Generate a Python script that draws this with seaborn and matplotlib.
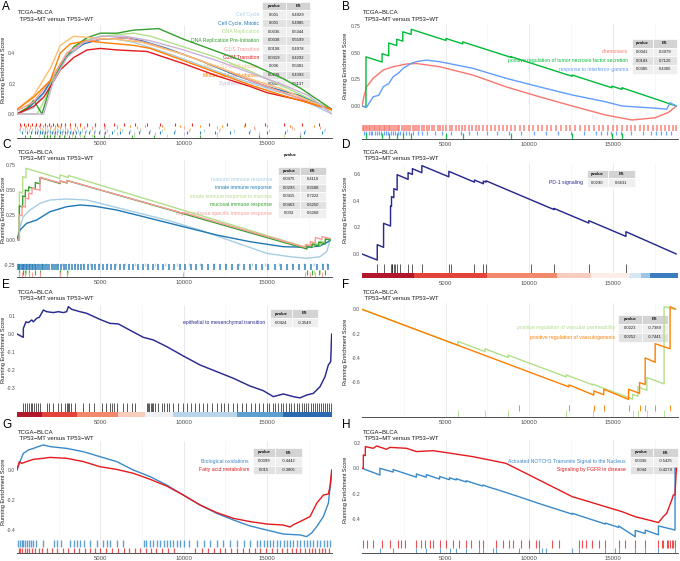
import matplotlib
matplotlib.use("Agg")
import matplotlib.pyplot as plt
from matplotlib.patches import Rectangle
import seaborn as sns

sns.set_theme(style="white")
plt.rcParams["font.family"] = ["Liberation Sans", "DejaVu Sans"]
plt.rcParams["axes.unicode_minus"] = False

W, H = 680, 561
N_GENES = 18900
X_TICKS = [5000, 10000, 15000]
X_TICK_LABELS = ["5000", "10000", "15000"]
TITLE1 = "TCGA\u2212BLCA"
TITLE2 = " TP53\u2212MT versus TP53\u2212WT"

# ---------------- Panel A data ----------------
A_LABELS = ["Cell Cycle", "Cell Cycle, Mitotic", "DNA Replication", "DNA Replication Pre-Initiation",
            "G1/S Transition", "G2/M Transition", "Mitotic G1-G1/S phases", "Mitotic G2-G2/M phases",
            "Synthesis of DNA"]
A_COLORS = ["#A6CEE3", "#1F78B4", "#B2DF8A", "#33A02C", "#FB9A99", "#E31A1C", "#FDBF6F", "#FF7F00", "#CAB2D6"]
A_PVAL = ["0.001", "0.001", "0.0036", "0.0038", "0.0108", "0.0319", "0.006", "0.0238", "0.0084"]
A_ES = ["0.4929", "0.4985", "0.5344", "0.5599", "0.4978", "0.4292", "0.5081", "0.4393", "0.5137"]
A_CC_X = [0, 1000, 2000, 2600, 3400, 4200, 5000, 6000, 7000, 9000, 11000, 13000, 15000, 17000, 18900]
A_CC_Y = [0, 0.04, 0.20, 0.33, 0.43, 0.47, 0.49, 0.49, 0.47, 0.40, 0.32, 0.24, 0.17, 0.10, 0.0]
A_CCM_X = [0, 800, 1600, 2200, 3000, 4000, 5000, 6500, 7500, 9000, 11000, 13000, 15000, 17000, 18900]
A_CCM_Y = [0, 0.05, 0.14, 0.25, 0.38, 0.46, 0.49, 0.50, 0.48, 0.43, 0.35, 0.26, 0.18, 0.12, 0.03]
A_DR_X = [0, 1200, 1700, 2200, 3000, 4000, 5000, 7000, 8000, 10000, 12000, 14000, 16000, 18900]
A_DR_Y = [0, 0.0, 0.10, 0.25, 0.40, 0.48, 0.51, 0.53, 0.51, 0.44, 0.37, 0.28, 0.18, 0.03]
A_DRP_X = [0, 600, 1000, 1500, 2000, 2600, 3400, 4200, 5000, 6000, 7000, 8500, 10000, 12000, 14000, 16000, 17000, 18900]
A_DRP_Y = [0, 0.04, 0.09, 0.0, 0.18, 0.31, 0.44, 0.50, 0.53, 0.53, 0.55, 0.56, 0.49, 0.41, 0.33, 0.23, 0.17, 0.03]
A_G1S_X = [0, 1000, 2000, 3000, 4000, 5000, 6500, 8000, 10000, 12000, 14000, 16000, 18900]
A_G1S_Y = [0.02, 0.08, 0.22, 0.40, 0.47, 0.49, 0.50, 0.46, 0.39, 0.31, 0.22, 0.14, 0.03]
A_G2M_X = [0, 1000, 1600, 2000, 2600, 3400, 4200, 5000, 6000, 7800, 10000, 12000, 14000, 15000, 17000, 18200, 18900]
A_G2M_Y = [0, 0.05, 0.11, 0.18, 0.29, 0.37, 0.42, 0.43, 0.42, 0.41, 0.33, 0.25, 0.18, 0.14, 0.09, 0.05, 0.03]
A_MG1_X = [0, 1000, 2000, 2600, 3400, 4500, 6000, 7500, 10000, 12000, 14000, 16000, 18900]
A_MG1_Y = [0.03, 0.12, 0.30, 0.45, 0.51, 0.50, 0.49, 0.47, 0.39, 0.31, 0.23, 0.16, 0.02]
A_MG2_X = [0, 1000, 2000, 2600, 3200, 4200, 5000, 7000, 8000, 10000, 12000, 14000, 16000, 18200, 18900]
A_MG2_Y = [0.03, 0.11, 0.22, 0.40, 0.46, 0.48, 0.47, 0.45, 0.43, 0.35, 0.27, 0.19, 0.12, 0.05, 0.03]
A_SP_X = [0, 1000, 1600, 2200, 3000, 4000, 5000, 6500, 8000, 10000, 12000, 14000, 16000, 17500, 18900]
A_SP_Y = [0, 0.0, 0.0, 0.22, 0.37, 0.47, 0.51, 0.51, 0.48, 0.42, 0.35, 0.27, 0.19, 0.12, 0.0]
A_HITS_CC = [200, 450, 700, 900, 1100, 1250, 1400, 1550, 1700, 1850, 2000, 2150, 2300, 2450, 2600, 2750, 2900, 3050,
             3250, 3450, 3650, 3900, 4150, 4400, 4700, 5000, 5400, 5800, 6300, 6800, 7400, 8000, 8700, 9500, 10300,
             11200, 12100, 13000, 14000, 15100, 16200, 17300, 18400]
A_HITS_CCM = [300, 600, 850, 1050, 1200, 1350, 1500, 1650, 1800, 1950, 2100, 2250, 2400, 2550, 2700, 2850, 3000,
              3150, 3350, 3550, 3800, 4050, 4300, 4600, 4900, 5300, 5700, 6200, 6700, 7300, 7900, 8600, 9400, 10200,
              11000, 11900, 12800, 13900, 15000, 16100, 17200, 18300]
A_HITS_DR = [1300, 1600, 1800, 2000, 2300, 2600, 2900, 3300, 3800, 4500, 5500, 7000, 9000, 12000, 16000]
A_HITS_DRP = [500, 800, 1600, 1800, 2000, 2200, 2500, 2800, 3100, 3500, 4000, 4600, 5200, 6900, 8200, 11000, 14500, 17000]
A_HITS_G1S = [200, 500, 800, 1100, 1400, 1700, 2000, 2300, 2600, 2900, 3200, 3600, 4000, 4500, 5200, 6000, 7200,
              8500, 10000, 12000, 14200, 16500, 18200]
A_HITS_G2M = [150, 400, 650, 900, 1150, 1400, 1650, 1900, 2150, 2400, 2650, 2900, 3200, 3500, 3800, 4200, 4700,
              5200, 5800, 6400, 7100, 7800, 8600, 9500, 10500, 11500, 12600, 13700, 14900, 16000, 17100, 18100]
A_HITS_MG1 = [100, 350, 600, 900, 1200, 1500, 1800, 2000, 2200, 2400, 2600, 3000, 3400, 3900, 4500, 5300, 6200,
              7400, 8800, 10400, 12200, 14300, 16600, 18500]
A_HITS_MG2 = [250, 550, 800, 1050, 1300, 1550, 1800, 2050, 2250, 2450, 2650, 2900, 3150, 3450, 3800, 4200, 4700,
              5300, 6000, 6800, 7700, 8700, 9800, 11000, 12300, 13600, 15000, 16400, 17800]
A_HITS_SP = [1600, 1800, 2000, 2200, 2400, 2700, 3000, 3300, 3700, 4100, 4600, 5200, 6000, 7000, 8300, 10000,
             12000, 14500, 17000]

# ---------------- Panel B data ----------------
B_LABELS = ["chemotaxis", "positive regulation of tumor necrosis factor secretion", "response to interferon-gamma"]
B_COLORS = ["#F8766D", "#00BA38", "#619CFF"]
B_PVAL = ["0.0041", "0.0183", "0.0385"]
B_ES = ["0.3979", "0.7120", "0.4306"]
B_RED_X = [0, 100, 278, 674, 1269, 1864, 2657, 3252, 4641, 6624, 8607, 10591, 12575, 14558, 16145, 17532, 18326, 18800]
B_RED_Y = [0, 0.08, 0.18, 0.26, 0.337, 0.368, 0.393, 0.398, 0.368, 0.29, 0.18, 0.087, 0.0, -0.084, -0.131, -0.11, -0.06, 0.0]
B_GRN_X = [0, 238, 238, 1200, 1200, 1600, 1600, 2080, 2080, 2440, 2440, 2940, 2940, 5020, 5020, 6020, 6020, 8900,
           8900, 12570, 12570, 14945, 14945, 15545, 15545, 18800]
B_GRN_Y = [0, -0.012, 0.46, 0.412, 0.49, 0.47, 0.59, 0.566, 0.625, 0.607, 0.695, 0.67, 0.718, 0.614, 0.632, 0.582,
           0.60, 0.456, 0.462, 0.278, 0.29, 0.171, 0.186, 0.156, 0.171, 0.0]
B_BLU_X = [0, 278, 674, 1000, 1269, 1600, 1864, 2200, 2459, 2955, 3252, 3847, 4641, 6624, 8607, 10591, 12575, 14558,
           15550, 16500, 17532, 18227, 18425, 18800]
B_BLU_Y = [0, -0.01, 0.087, 0.10, 0.18, 0.21, 0.274, 0.31, 0.353, 0.40, 0.415, 0.43, 0.415, 0.353, 0.26, 0.18,
           0.103, 0.04, 0.0, -0.01, -0.02, -0.03, 0.03, 0.0]
B_HITS_RED = [40, 120, 230, 310, 420, 480, 590, 700, 760, 880, 990, 1060, 1180, 1290, 1350, 1470, 1600, 1690, 1810,
              1930, 2040, 2160, 2230, 2370, 2520, 2610, 2780, 2900, 3030, 3170, 3260, 3420, 3590, 3700, 3880, 4010,
              4190, 4330, 4520, 4680, 4850, 5030, 5240, 5390, 5600, 5780, 5990, 6170, 6400, 6580, 6820, 7010, 7260,
              7480, 7690, 7950, 8170, 8420, 8690, 8930, 9180, 9460, 9700, 9980, 10250, 10540, 10790, 11080, 11330,
              11620, 11900, 12180, 12470, 12760, 13020, 13310, 13600, 13880, 14150, 14430, 14720, 15000, 15260,
              15550, 15820, 16080, 16350, 16620, 16870, 17130, 17390, 17640, 17880, 18120, 18350, 18580, 18760]
B_HITS_GRN = [238, 1200, 1600, 2080, 2440, 2940, 5020, 6020, 8900, 12570, 14945, 15545]
B_HITS_BLU = [100, 260, 390, 520, 610, 780, 900, 1040, 1150, 1310, 1420, 1580, 1720, 1860, 1990, 2150, 2300, 2480,
              2650, 2830, 3050, 3350, 3600, 3900, 4350, 4800, 5300, 5900, 6400, 6900, 7500, 8100, 8800, 9500, 10300,
              11000, 11700, 12500, 13300, 14000, 14300, 14650, 14900, 15200, 15500, 16100, 16800, 17300, 17600,
              17900, 18200, 18500]

# ---------------- Panel C data ----------------
C_LABELS = ["humoral immune response", "innate immune response", "innate immune response in mucosa",
            "mucosal immune response", "organ or tissue specific immune response"]
C_COLORS = ["#A6CEE3", "#1F78B4", "#B2DF8A", "#33A02C", "#FB9A99"]
C_PVAL = ["0.0475", "0.0293", "0.0415", "0.0463", "0.033"]
C_ES = ["0.4110", "0.3588", "0.7222", "0.6250", "0.6268"]
C_HUM_X = [0, 180, 380, 780, 1380, 1980, 2980, 4180, 4980, 6980, 8980, 10980, 12980, 14980, 16380, 17380, 18180, 18580, 18800]
C_HUM_Y = [0, 0.133, 0.233, 0.30, 0.367, 0.40, 0.41, 0.40, 0.367, 0.283, 0.20, 0.10, -0.017, -0.133, -0.167, -0.183, -0.167, -0.117, 0.0]
C_INN_X = [0, 180, 580, 1180, 1980, 2980, 3780, 4580, 5980, 7980, 9980, 11980, 13980, 15980, 17380, 18180, 18680, 18800]
C_INN_Y = [0, 0.10, 0.167, 0.20, 0.283, 0.333, 0.35, 0.34, 0.30, 0.217, 0.133, 0.05, -0.017, -0.067, -0.073, -0.06, -0.017, 0.0]
C_MUC_X = [0, 140, 140, 340, 340, 540, 540, 2580, 2580, 3080, 3080, 17380, 17380, 17800, 17800, 18200, 18200, 18500, 18500, 18800]
C_MUC_Y = [0, 0, 0.48, 0.47, 0.633, 0.623, 0.717, 0.615, 0.65, 0.625, 0.645, -0.075, -0.045, -0.066, -0.03, -0.05,
           -0.01, -0.025, 0.015, 0.0]
C_MCL_X = [0, 140, 140, 340, 340, 500, 500, 700, 700, 1100, 1100, 1380, 1380, 2600, 2600, 3000, 3000, 17400, 17400,
           17700, 17700, 18100, 18100, 18500, 18500, 18800]
C_MCL_Y = [0, 0, 0.34, 0.33, 0.44, 0.432, 0.50, 0.49, 0.53, 0.51, 0.575, 0.561, 0.625, 0.564, 0.59, 0.57, 0.595,
           -0.09, -0.06, -0.074, -0.04, -0.059, -0.02, -0.039, 0.01, 0.0]
C_ORG_X = [0, 140, 140, 300, 300, 500, 500, 700, 700, 900, 900, 1380, 1380, 2600, 2600, 3000, 3000, 9980, 9980, 17300,
           17300, 17600, 17600, 17900, 17900, 18300, 18300, 18800]
C_ORG_Y = [0, 0, 0.25, 0.242, 0.34, 0.33, 0.42, 0.41, 0.47, 0.46, 0.52, 0.497, 0.627, 0.57, 0.59, 0.571, 0.595,
           0.267, 0.274, -0.074, -0.045, -0.059, -0.015, -0.03, 0.025, 0.006, 0.035, 0.015]
C_HITS_HUM = [80, 250, 430, 600, 790, 1000, 1230, 1480, 1750, 2050, 2380, 2700, 3100, 3500, 3950, 4400, 4900, 5400,
              5950, 6500, 7100, 7700, 8300, 8900, 9600, 10300, 11000, 11800, 12500, 13300, 14100, 14900, 15700,
              16500, 17200, 17800, 18300, 18600]
C_HITS_INN = [30, 110, 190, 280, 350, 440, 520, 610, 700, 790, 870, 960, 1060, 1150, 1260, 1350, 1470, 1580, 1690,
              1820, 1940, 2070, 2200, 2340, 2480, 2630, 2790, 2940, 3110, 3290, 3460, 3650, 3840, 4040, 4250, 4470,
              4690, 4920, 5150, 5400, 5640, 5900, 6160, 6430, 6700, 6980, 7260, 7560, 7850, 8160, 8460, 8780, 9100,
              9420, 9750, 10080, 10420, 10760, 11100, 11450, 11800, 12160, 12520, 12880, 13240, 13600, 13970,
              14340, 14710, 15080, 15450, 15820, 16190, 16560, 16930, 17300, 17660, 18010, 18340, 18650]
C_HITS_MUC = [140, 340, 540, 2580, 3080, 17380, 17800, 18200, 18500]
C_HITS_MCL = [140, 340, 500, 700, 1100, 1380, 2600, 3000, 17400, 17700, 18100, 18500]
C_HITS_ORG = [140, 300, 500, 700, 900, 1380, 2600, 3000, 9980, 17300, 17600, 17900, 18300]

# ---------------- Panel D data ----------------
D_LABEL = ["PD-1 signaling"]
D_PVAL = ["0.0290"]
D_ES = ["0.6631"]
D_X = [0, 912, 912, 1290, 1290, 1706, 1706, 1765, 1765, 1904, 1904, 2102, 2102, 2757, 2757, 3014, 3014, 3580, 3580,
       5195, 5195, 6723, 6723, 7259, 7259, 7417, 7417, 11485, 11485, 13566, 13566, 15787, 15787, 18800]
D_Y = [0, -0.045, 0.07, 0.05, 0.23, 0.21, 0.36, 0.357, 0.43, 0.423, 0.49, 0.48, 0.595, 0.56, 0.61, 0.597, 0.64,
       0.61, 0.663, 0.579, 0.62, 0.539, 0.555, 0.527, 0.547, 0.539, 0.549, 0.333, 0.342, 0.232, 0.25, 0.132, 0.167, 0.0]
D_HITS = [912, 1290, 1706, 1765, 1805, 1904, 1964, 2102, 2300, 2757, 3014, 3580, 5195, 5300, 6723, 7259, 7417,
          10095, 11485, 13566, 15787]
D_BAR_EDGES = [0, 3110, 7480, 11640, 13720, 16000, 16700, 17200, 18900]
D_BAR_COLORS = ["#B2182B", "#E4433A", "#F2896D", "#F8CDBD", "#FBEDE8", "#D6E6F2", "#9CC5E3", "#3B7DBE"]

# ---------------- Panel E data ----------------
E_LABEL = ["epithelial to mesenchymal transition"]
E_PVAL = ["0.0424"]
E_ES = ["-0.3549"]
E_X = [0, 380, 380, 540, 680, 880, 980, 1180, 1340, 1580, 1780, 2180, 2480, 2780, 2980, 3080, 3280, 3780, 4180,
       4980, 5580, 6080, 6580, 7580, 8180, 8980, 9980, 10980, 11980, 12980, 13980, 14780, 15380, 15980, 16580,
       16980, 17380, 17780, 18180, 18480, 18680, 18820, 18880]
E_Y = [0, -0.0185, 0.031, 0.068, 0.063, 0.078, 0.068, 0.087, 0.093, 0.133, 0.124, 0.119, 0.124, 0.119, 0.124, 0.152,
       0.137, 0.124, 0.115, 0.081, 0.059, 0.056, 0.031, -0.0185, -0.033, -0.070, -0.122, -0.172, -0.209, -0.246,
       -0.289, -0.315, -0.348, -0.333, -0.348, -0.355, -0.339, -0.330, -0.293, -0.237, -0.172, -0.154, 0.0]
E_HITS = [380, 480, 620, 740, 820, 920, 1040, 1140, 1280, 1380, 1780, 1940, 2140, 2480, 2620, 2900, 2980, 3040, 3120,
          3220, 3480, 3980, 4340, 4620, 5080, 5340, 5580, 5680, 5820, 5980, 6380, 6580, 6880, 7080, 7780, 7840,
          7920, 8020, 8100, 8180, 8300, 8480, 8680, 8820, 8980, 9140, 9380, 9680, 9940, 10180, 10420, 10680,
          10940, 11180, 11420, 11720, 11980, 12220, 12420, 12680, 12980, 13220, 13480, 13740, 14020, 14280,
          14540, 14780, 14980, 15140, 15340, 15500, 15660, 15820, 15980, 16140, 16300, 16460, 16620, 16780,
          16940, 17080, 17220, 17340, 17480, 17620, 17740, 17880, 18020, 18140, 18260, 18380, 18500, 18620,
          18740, 18860]
E_BAR_EDGES = [0, 1480, 3580, 6080, 7680, 9380, 13180, 15980, 18900]
E_BAR_COLORS = ["#B2182B", "#E4433A", "#F2896D", "#F8CDBD", "#EEF0F4", "#B9D5EA", "#5E9FD0", "#2A6AAE"]

# ---------------- Panel F data ----------------
F_LABELS = ["positive regulation of vascular permeability", "positive regulation of vasculogenesis"]
F_COLORS = ["#B2DF8A", "#FF7F00"]
F_PVAL = ["0.0223", "0.0252"]
F_ES = ["-0.7389", "-0.7441"]
F_GRN_X = [0, 5732, 5732, 7358, 7358, 8747, 8747, 12217, 12217, 13804, 13804, 16184, 16184, 16502, 16502, 17037,
           17037, 18068, 18068, 18763]
F_GRN_Y = [0, -0.296, -0.264, -0.348, -0.325, -0.397, -0.378, -0.557, -0.54, -0.622, -0.616, -0.739, -0.70, -0.716,
           -0.639, -0.667, -0.561, -0.614, 0.022, 0.0]
F_ORG_X = [0, 12376, 12376, 13864, 13864, 14459, 14459, 15946, 15946, 16600, 16600, 16938, 16938, 17533, 17533,
           18425, 18425, 18763]
F_ORG_Y = [0, -0.639, -0.622, -0.706, -0.672, -0.703, -0.658, -0.742, -0.658, -0.692, -0.603, -0.619, -0.40,
           -0.436, -0.283, -0.325, 0.022, 0.0]
F_HITS_GRN = [5732, 7358, 8747, 12217, 13804, 16184, 16502, 17037, 18068]
F_HITS_ORG = [9401, 12376, 13864, 14459, 15946, 16600, 16938, 17533, 18425]

# ---------------- Panel G data ----------------
G_LABELS = ["Biological oxidations", "Fatty acid metabolism"]
G_COLORS = ["#3A89C9", "#E41A1C"]
G_PVAL = ["0.0099", "0.015"]
G_ES = ["-0.4442", "-0.3805"]
G_BLU_X = [0, 180, 380, 680, 980, 1380, 1580, 1980, 2980, 3980, 4980, 5980, 6980, 7980, 8980, 9980, 10980, 11980,
           12980, 13980, 14980, 15980, 16980, 17380, 17680, 17980, 18380, 18680, 18840, 18900]
G_BLU_Y = [0, 0.056, 0.111, 0.133, 0.144, 0.16, 0.167, 0.156, 0.144, 0.122, 0.089, 0.056, 0.0, -0.044, -0.1,
           -0.167, -0.233, -0.289, -0.333, -0.373, -0.4, -0.427, -0.433, -0.444, -0.42, -0.378, -0.311, -0.222,
           -0.067, 0.0]
G_RED_X = [0, 140, 280, 580, 980, 1580, 1980, 2980, 3980, 4980, 5980, 6980, 7980, 8980, 9980, 10980, 11980, 12980,
           13980, 14980, 15980, 16380, 16580, 16980, 17580, 17980, 18380, 18680, 18780, 18880]
G_RED_Y = [0, 0.056, 0.044, 0.056, 0.071, 0.078, 0.084, 0.078, 0.056, 0.022, 0.004, -0.022, -0.062, -0.107,
           -0.167, -0.233, -0.284, -0.322, -0.344, -0.36, -0.367, -0.38, -0.365, -0.344, -0.311, -0.222, -0.167,
           -0.16, -0.111, 0.0]
G_HITS_BLU = [80, 170, 290, 370, 490, 610, 690, 830, 940, 1160, 1570, 2190, 2370, 2620, 3170, 3390, 3610, 3770,
              3990, 4360, 4790, 5170, 5390, 5570, 5990, 6370, 7590, 7760, 7990, 8170, 8390, 8560, 8790, 8970, 9190,
              9370, 9590, 9760, 9990, 10290, 10770, 11190, 11570, 11990, 12370, 12790, 13170, 13590, 13970, 14390,
              14570, 14790, 14970, 15190, 15370, 15590, 15770, 15990, 16170, 16390, 16570, 16790, 16970, 17190,
              17370, 17590, 17770, 17990, 18170, 18390, 18570, 18770]
G_HITS_RED = [90, 200, 320, 450, 580, 700, 880, 1050, 1300, 1500, 1800, 2100, 2400, 2750, 3050, 3400, 3700, 4050,
              4400, 4700, 5000, 5350, 5700, 6050, 6400, 6700, 7050, 7400, 7750, 8050, 8350, 8700, 9050, 9400,
              10700, 11100, 11450, 11800, 12150, 12500, 12850, 13200, 13550, 13900, 14250, 14600, 14950, 15300,
              15600, 15900, 16200, 16500, 16750, 17000, 17250, 17500, 17700, 17900, 18100, 18300, 18500, 18700]

# ---------------- Panel H data ----------------
H_LABELS = ["Activated NOTCH1 Transmits Signal to the Nucleus", "Signaling by FGFR in disease"]
H_COLORS = ["#3A89C9", "#E41A1C"]
H_PVAL = ["0.0336", "0.044"]
H_ES = ["-0.5425", "-0.4279"]
H_BLU_X = [0, 1071, 1071, 1864, 1864, 3252, 3252, 3847, 3847, 4641, 4641, 5236, 5236, 5633, 5633, 6228, 6228, 7021,
           7219, 7219, 7814, 8012, 9400, 10591, 10987, 12575, 12575, 12971, 14558, 14558, 15153, 15351, 15351,
           16343, 16343, 16938, 16938, 17731, 17731, 18723, 18723, 18800]
H_BLU_Y = [0, -0.053, 0.0, -0.03, -0.01, -0.07, -0.045, -0.07, -0.05, -0.085, -0.065, -0.09, -0.075, -0.092, -0.082,
           -0.108, -0.098, -0.132, -0.14, -0.132, -0.158, -0.165, -0.225, -0.278, -0.295, -0.362, -0.355, -0.372,
           -0.44, -0.432, -0.458, -0.466, -0.455, -0.54, -0.49, -0.515, -0.488, -0.525, -0.455, -0.487, 0.0, 0.0]
H_RED_X = [0, 79, 79, 198, 198, 674, 873, 1468, 1666, 2657, 3252, 4244, 5038, 6624, 7616, 8607, 9599, 10591, 11582,
           12575, 13566, 14558, 15550, 16343, 17731, 18029, 18227, 18524, 18624, 18723, 18800]
H_RED_Y = [0, 0, 0.105, 0.10, 0.171, 0.158, 0.176, 0.15, 0.165, 0.158, 0.132, 0.139, 0.124, 0.092, 0.066, 0.039,
           -0.026, -0.092, -0.158, -0.224, -0.263, -0.303, -0.342, -0.382, -0.428, -0.38, -0.355, -0.25, -0.21,
           -0.21, 0.0]
H_HITS_BLU = [1071, 1864, 3252, 3847, 4641, 5236, 5633, 6228, 7021, 7219, 7814, 8012, 9400, 10591, 10789, 10987,
              12575, 12971, 14558, 15153, 15351, 16343, 16938, 17731, 18723]
H_HITS_RED = [79, 278, 674, 1170, 1666, 2161, 2360, 2558, 3252, 3550, 3748, 4046, 4244, 4641, 5038, 5434, 5831,
              6228, 6525, 7021, 7219, 8012, 8409, 8805, 9004, 9499, 9995, 10392, 10591, 11384, 11781, 12971, 13169,
              13368, 13764, 14161, 14558, 15351, 15748, 16343, 16938, 17731, 17929, 18029, 18227, 18326, 18425,
              18524, 18624, 18723]

# ====================================================================
fig = plt.figure(figsize=(6.8, 5.61), dpi=100)
TICKC = "#4D4D4D"


def fx(px):
    return px / W


def fy(py):
    return 1 - py / H


def panel(left, right, top, bot, y0, ppu, yticks, ylabels, bottom_line=True):
    ax = fig.add_axes([fx(left), fy(bot), (right - left) / W, (bot - top) / H])
    ax.set_facecolor("none")
    ax.set_xlim(0, N_GENES)
    ax.set_ylim((y0 - bot) / ppu, (y0 - top) / ppu)
    for s in ax.spines.values():
        s.set_visible(False)
    if bottom_line:
        ax.spines["bottom"].set_visible(True)
        ax.spines["bottom"].set_color("#333333")
        ax.spines["bottom"].set_linewidth(0.6)
    for g in [2500, 7500, 12500, 17500]:
        ax.axvline(g, color="#F1F1F1", lw=0.4, zorder=0.2)
    for g in X_TICKS:
        ax.axvline(g, color="#E6E6E6", lw=0.6, zorder=0.2)
    ax.set_xticks(X_TICKS)
    ax.set_xticklabels(X_TICK_LABELS)
    ax.set_yticks(yticks)
    ax.set_yticklabels(ylabels)
    ax.tick_params(axis="x", length=0, pad=2.0, labelsize=4.3, labelcolor=TICKC)
    ax.tick_params(axis="y", length=0, pad=1.2, labelsize=3.6, labelcolor=TICKC)
    ax.grid(False)
    return ax


def curve(ax, xs, ys, color, lw=1.0):
    sns.lineplot(x=xs, y=ys, ax=ax, color=color, lw=lw, estimator=None, sort=False, legend=False, zorder=3)


def rug(ax, hits, lo, hi, color, lw=0.8, alpha=0.9):
    ax.vlines(hits, lo, hi, colors=color, lw=lw, alpha=alpha, zorder=2.5)


def cbar(ax, edges, colors, lo, hi):
    for i, c in enumerate(colors):
        ax.add_patch(Rectangle((edges[i], lo), edges[i + 1] - edges[i], hi - lo, facecolor=c,
                               edgecolor="none", zorder=2.6))


def heading(letter, lx, ly, tx, t1y, t2y):
    fig.text(fx(lx), fy(ly), letter, fontsize=8.5, va="top", ha="left", color="black")
    fig.text(fx(tx), fy(t1y), TITLE1, fontsize=4.3, va="center", ha="left", color="#1A1A1A")
    fig.text(fx(tx), fy(t2y), TITLE2, fontsize=4.3, va="center", ha="left", color="#1A1A1A")


def ylab(px, py):
    fig.text(fx(px), fy(py), "Running Enrichment Score", rotation=90, fontsize=4.0,
             va="center", ha="center", color="#1A1A1A")


def rect(ax, x0, y0, x1, y1, color):
    ax.add_artist(Rectangle((fx(x0), fy(y1)), (x1 - x0) / W, (y1 - y0) / H, transform=fig.transFigure,
                            facecolor=color, edgecolor="white", lw=0.5, clip_on=False, zorder=1.5))


def table(ax, labels, colors, pv, es, lab_r, pc, ec, hy, rh, tfs=3.0, lfs=3.7):
    rect(ax, pc[0], hy[0], pc[1], hy[1], "#D3D3D3")
    rect(ax, ec[0], hy[0], ec[1], hy[1], "#D3D3D3")
    ym = (hy[0] + hy[1]) / 2
    ax.text(fx((pc[0] + pc[1]) / 2), fy(ym), "pvalue", transform=fig.transFigure, fontsize=tfs,
            fontweight="bold", ha="center", va="center", clip_on=False, zorder=1.6, color="#1A1A1A")
    ax.text(fx((ec[0] + ec[1]) / 2), fy(ym), "ES", transform=fig.transFigure, fontsize=tfs,
            fontweight="bold", ha="center", va="center", clip_on=False, zorder=1.6, color="#1A1A1A")
    for i in range(len(labels)):
        r0 = hy[1] + i * rh
        r1 = r0 + rh
        bg = "#EFEFEF" if i % 2 == 0 else "#E2E2E2"
        rect(ax, pc[0], r0, pc[1], r1, bg)
        rect(ax, ec[0], r0, ec[1], r1, bg)
        rm = (r0 + r1) / 2
        ax.text(fx((pc[0] + pc[1]) / 2), fy(rm), pv[i], transform=fig.transFigure, fontsize=tfs,
                ha="center", va="center", clip_on=False, zorder=1.6, color="#1A1A1A")
        ax.text(fx((ec[0] + ec[1]) / 2), fy(rm), es[i], transform=fig.transFigure, fontsize=tfs,
                ha="center", va="center", clip_on=False, zorder=1.6, color="#1A1A1A")
        ax.text(fx(lab_r), fy(rm), labels[i], transform=fig.transFigure, fontsize=lfs,
                ha="right", va="center", clip_on=False, zorder=1.6, color=colors[i])


LC, RC = (17, 332), (362, 678)

# ---------------- A ----------------
axA = panel(LC[0], LC[1], 25, 138, 114, 152.5, [0.0, 0.2, 0.4], ["0.0", "0.2", "0.4"])
heading("A", 2, 0.5, 18, 12, 19.5)
ylab(4, 70)
table(axA, A_LABELS, A_COLORS, A_PVAL, A_ES, 259, (262, 286), (286, 310), (1.5, 10.2), 8.65)
A_SERIES = [(A_CC_X, A_CC_Y), (A_CCM_X, A_CCM_Y), (A_DR_X, A_DR_Y), (A_DRP_X, A_DRP_Y), (A_G1S_X, A_G1S_Y),
            (A_G2M_X, A_G2M_Y), (A_MG1_X, A_MG1_Y), (A_MG2_X, A_MG2_Y), (A_SP_X, A_SP_Y)]
for (xs, ys), c in zip(A_SERIES, A_COLORS):
    curve(axA, xs, ys, c)
A_HITS = [A_HITS_CC, A_HITS_CCM, A_HITS_DR, A_HITS_DRP, A_HITS_G1S, A_HITS_G2M, A_HITS_MG1, A_HITS_MG2, A_HITS_SP]
A_ROW_ORDER = [5, 7, 4, 6, 0, 1, 8, 2, 3]
for r, k in enumerate(A_ROW_ORDER):
    hi = -0.059 - r * 0.0102
    rug(axA, A_HITS[k], hi - 0.018, hi, A_COLORS[k], lw=0.8)

# ---------------- B ----------------
axB = panel(RC[0], RC[1], 24, 139, 106, 106.8, [0, 0.25, 0.5, 0.75], ["0.00", "0.25", "0.50", "0.75"])
heading("B", 342, 0.5, 363, 12, 19.5)
ylab(345, 66)
table(axB, B_LABELS, B_COLORS, B_PVAL, B_ES, 628, (632, 653), (653, 677), (39, 47.5), 8.7)
curve(axB, B_RED_X, B_RED_Y, B_COLORS[0])
curve(axB, B_GRN_X, B_GRN_Y, B_COLORS[1])
curve(axB, B_BLU_X, B_BLU_Y, B_COLORS[2])
rug(axB, B_HITS_RED, -0.232, -0.175, B_COLORS[0], lw=1.1)
rug(axB, B_HITS_BLU, -0.275, -0.232, B_COLORS[2], lw=0.9)
rug(axB, B_HITS_GRN, -0.305, -0.255, B_COLORS[1], lw=0.9)

# ---------------- C ----------------
axC = panel(LC[0], LC[1], 160, 277, 240, 100, [-0.25, 0, 0.25, 0.5, 0.75],
            ["-0.25", "0.00", "0.25", "0.50", "0.75"])
heading("C", 2, 139, 18, 152, 159)
ylab(4, 210)
fig.text(fx(290), fy(155), "pvalue", fontsize=3.0, fontweight="bold", ha="center", va="center", color="#1A1A1A")
table(axC, C_LABELS, C_COLORS, C_PVAL, C_ES, 272, (278, 300), (300, 326), (166.5, 175), 8.5)
for xs, ys, c in [(C_HUM_X, C_HUM_Y, C_COLORS[0]), (C_INN_X, C_INN_Y, C_COLORS[1]), (C_MUC_X, C_MUC_Y, C_COLORS[2]),
                  (C_MCL_X, C_MCL_Y, C_COLORS[3]), (C_ORG_X, C_ORG_Y, C_COLORS[4])]:
    curve(axC, xs, ys, c)
rug(axC, C_HITS_HUM, -0.262, -0.225, C_COLORS[0], lw=1.0)
rug(axC, C_HITS_INN, -0.295, -0.24, C_COLORS[1], lw=1.1)
rug(axC, C_HITS_MUC, -0.335, -0.295, C_COLORS[2])
rug(axC, C_HITS_MCL, -0.35, -0.30, C_COLORS[3])
rug(axC, C_HITS_ORG, -0.365, -0.32, C_COLORS[4])

# ---------------- D ----------------
axD = panel(RC[0], RC[1], 163, 278, 254, 133.3, [0, 0.2, 0.4, 0.6], ["0.0", "0.2", "0.4", "0.6"],
            bottom_line=False)
heading("D", 342, 139, 363, 152, 158.5)
ylab(345, 210)
table(axD, D_LABEL, ["#2A2A90"], D_PVAL, D_ES, 583, (587, 608), (608, 635), (170, 178.5), 8.5)
curve(axD, D_X, D_Y, "#2A2A90", lw=1.05)
rug(axD, D_HITS, -0.143, -0.075, "#222222", lw=0.6, alpha=0.85)
cbar(axD, D_BAR_EDGES, D_BAR_COLORS, -0.18, -0.143)

# ---------------- E ----------------
axE = panel(LC[0], LC[1], 305, 417, 334, 180, [-0.3, -0.2, -0.1, 0.0, 0.1],
            ["-0.3", "-0.2", "-0.1", "0.0", "0.1"], bottom_line=False)
heading("E", 2, 279, 18, 292, 298.5)
ylab(4, 350)
table(axE, E_LABEL, ["#2A2A90"], E_PVAL, E_ES, 265, (270, 292), (292, 318), (309, 318), 9)
curve(axE, E_X, E_Y, "#2A2A90", lw=1.05)
rug(axE, E_HITS, -0.433, -0.383, "#222222", lw=0.65, alpha=0.8)
cbar(axE, E_BAR_EDGES, E_BAR_COLORS, -0.461, -0.433)

# ---------------- F ----------------
axF = panel(RC[0], RC[1], 303, 417, 309.3, 121.5, [-0.6, -0.4, -0.2, 0.0], ["-0.6", "-0.4", "-0.2", "0.0"])
heading("F", 342, 279, 363, 292, 298.5)
ylab(345, 352)
table(axF, F_LABELS, F_COLORS, F_PVAL, F_ES, 615, (618, 642), (642, 668), (315, 323.5), 9)
curve(axF, F_GRN_X, F_GRN_Y, F_COLORS[0])
curve(axF, F_ORG_X, F_ORG_Y, F_COLORS[1])
rug(axF, F_HITS_ORG, -0.84, -0.79, F_COLORS[1], lw=0.7)
rug(axF, F_HITS_GRN, -0.885, -0.83, F_COLORS[0], lw=0.7)

# ---------------- G ----------------
axG = panel(LC[0], LC[1], 441, 553, 470, 150, [-0.4, -0.2, 0.0], ["-0.4", "-0.2", "0.0"])
heading("G", 2, 419, 18, 432, 438.5)
ylab(4, 492)
table(axG, G_LABELS, G_COLORS, G_PVAL, G_ES, 249, (253, 275), (275, 302), (448, 457), 8.5)
curve(axG, G_BLU_X, G_BLU_Y, G_COLORS[0])
curve(axG, G_RED_X, G_RED_Y, G_COLORS[1])
rug(axG, G_HITS_BLU, -0.513, -0.467, G_COLORS[0], lw=1.0, alpha=0.8)
rug(axG, G_HITS_RED, -0.553, -0.517, G_COLORS[1], lw=0.9, alpha=0.75)

# ---------------- H ----------------
axH = panel(RC[0], RC[1], 440, 553, 468.3, 126.7, [-0.4, -0.2, 0.0, 0.2], ["-0.4", "-0.2", "0.0", "0.2"])
heading("H", 342, 419, 363, 432, 438.5)
ylab(345, 490)
table(axH, H_LABELS, H_COLORS, H_PVAL, H_ES, 626, (630, 653), (653, 678), (448, 457), 8.5)
curve(axH, H_BLU_X, H_BLU_Y, H_COLORS[0])
curve(axH, H_RED_X, H_RED_Y, H_COLORS[1])
rug(axH, H_HITS_RED, -0.629, -0.566, H_COLORS[1], lw=0.8, alpha=0.75)
rug(axH, H_HITS_BLU, -0.668, -0.629, H_COLORS[0], lw=0.8, alpha=0.75)

fig.savefig("out.png", dpi=100)
